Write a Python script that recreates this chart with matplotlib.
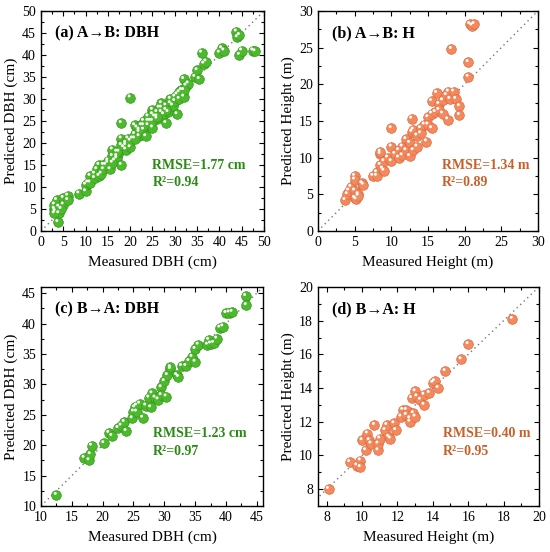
import matplotlib
matplotlib.use("Agg")
import matplotlib.pyplot as plt
from matplotlib.transforms import ScaledTranslation
from matplotlib.ticker import MultipleLocator, AutoMinorLocator

plt.rcParams['font.family'] = ['Liberation Serif', 'DejaVu Serif']
plt.rcParams['mathtext.fontset'] = 'stix'

# ---------------- data ----------------
a_meas = [3, 3, 3.2, 3.5, 4, 3.8, 4, 5, 5, 6, 6, 3, 4.5,
          8.5, 10, 10, 10.5, 11, 11, 12, 12, 12.5, 13, 13, 13.5, 14, 14, 15, 15, 15.5,
          16, 16, 16.5, 17, 17, 17.5, 18, 18, 18, 18.5, 19, 19, 19.5, 20, 20, 20.5,
          21, 21, 21.5, 22, 22, 22.5, 23, 23, 23.5, 24, 24, 24.5, 25, 25, 25.5, 26, 26,
          26.5, 27, 27, 27.5, 28, 28, 28.5, 29, 29.5, 30, 30, 30.5, 30.5, 31, 31.5, 32,
          32, 32.5, 33, 34.5, 35, 35.5, 36, 36.5, 37, 40, 40.5, 41, 43.8, 44, 44.5, 44.5,
          45, 47.5, 48,
          14.5, 16, 17, 18, 19, 20, 21, 22, 23, 24, 25, 25, 26, 27, 28, 29, 31, 32]
a_pred = [5, 6, 4.5, 7, 5.5, 2, 4, 7.5, 6, 8, 7, 4, 5,
          8.5, 9, 10.5, 11, 12.5, 11, 12, 13, 14, 15, 12.5, 13, 15, 14, 15.5, 16, 14,
          17, 18.5, 16, 17, 16.5, 18, 15, 21, 24.5, 19, 20, 18.5, 21, 19, 30.3, 21,
          22, 24, 23.5, 21.5, 22.5, 24, 23, 25, 21.5, 24, 26, 25, 27.5, 23.5, 26, 27, 25.5,
          28, 29, 27, 26.5, 24.5, 28.5, 27, 29, 28.5, 30.5, 29.5, 26.5, 31, 30, 32, 30.5,
          34.5, 33, 33.5, 35, 36.5, 34.5, 40.5, 38, 38.5, 40.5, 41.5, 41, 45.3, 44, 44.5, 40,
          41, 41, 40.8,
          15, 15.5, 18, 19.5, 19.5, 20.5, 21, 23, 24, 25, 25, 26.5, 26, 28, 27.5, 30, 31.5, 32]

b_meas = [3.7, 4, 4.2, 4.5, 5, 5, 5, 5, 5.2, 5.5, 5.5, 6, 6.2, 7.5, 8, 8, 8.5, 8.5, 8.5,
          8.8, 9, 9, 9.5, 10, 10, 10, 10.5, 11, 11, 11.5, 11.5, 12, 12, 12.5, 12.5, 12.8,
          12.8, 13, 13, 13.5, 13.5, 14, 14, 14.5, 14.8, 15, 15, 15.5, 15.5, 15.5, 16, 16.2,
          16.5, 16.5, 17, 17, 17.5, 17.7, 17.8, 18, 18.2, 18.5, 18.8, 19.3, 19.3, 20.5,
          20.5, 20.7, 21, 21.3]
b_pred = [4.2, 5, 5.5, 6, 7.5, 7, 5.5, 4.5, 4.3, 5, 4.8, 6.5, 6.3, 7.5, 8, 7.5, 9, 10.5, 10.8,
          8.5, 9.5, 8.2, 10, 11.5, 14, 9.5, 10.5, 11, 10, 11.5, 10.3, 12.5, 11, 12, 10.2, 15.3,
          13.5, 13.8, 11, 11.5, 13, 14, 13.3, 14.5, 12.2, 15.5, 14.5, 14, 16, 17.7, 16.2, 18.8,
          17.3, 16.5, 17.8, 16, 18.5, 15.2, 19, 18, 24.8, 19, 18, 17, 15.8, 21,
          23, 28.2, 28, 28.2]

c_meas = [12.5, 17, 17.8, 18, 18.2, 20.2, 21, 21.5, 22.5, 23, 23.5, 23.8, 24.8, 25, 25.2,
          25.5, 25.5, 26, 26.5, 27, 27.5, 27.8, 28, 28.5, 29, 29.5, 29.5, 30, 30.3, 30.5,
          31, 31, 32, 32.3, 32.8, 33.5, 34, 34.5, 35, 35, 35.5, 37, 37.2, 37.5, 38, 38.5,
          39, 39.5, 40, 40.5, 41, 43.2, 43.3]
c_pred = [11.8, 17.9, 17.5, 18.5, 19.9, 20.3, 22, 21.5, 22.8, 23.2, 23.8, 22.3, 24.4, 25.5, 26.2,
          26.5, 25.5, 26.8, 24.5, 26.5, 27.8, 26.2, 28.5, 27.8, 27.5, 29.5, 28.2, 30.5, 28, 31.5,
          32.5, 32.8, 31.5, 31.2, 33, 33, 33.8, 34.5, 35.8, 33.7, 36.5, 36.5, 37.3, 36.7, 36.8, 37.5,
          39.3, 39.5, 41.7, 41.8, 41.9, 44.5, 43]

d_meas = [8.1, 9.3, 9.7, 9.9, 9.9, 10, 10.2, 10.3, 10.4, 10.5, 10.7, 10.9, 10.9, 11, 11.3,
          11.4, 11.5, 11.6, 11.8, 11.9, 12.2, 12.3, 12.5, 12.5, 12.7, 12.7, 12.8, 12.9, 13,
          13, 13.1, 13.3, 13.5, 13.5, 13.8, 14, 14.1, 14.3, 14.7, 15.6, 16, 18.5]
d_pred = [8.0, 9.6, 9.4, 9.7, 9.3, 10.9, 10.3, 11.3, 10.9, 10.7, 11.8, 10.3, 10.7, 11, 11.5,
          11.8, 11.1, 11.0, 11.9, 11.5, 12.3, 12.7, 12.7, 12.4, 12.2, 12.0, 13.4, 12.5, 12.3,
          13.8, 13.5, 13.3, 13.0, 13.6, 13.7, 14.3, 14.4, 14.0, 15.0, 15.7, 16.6, 18.1]

titles = ["(a) A\u2192B: DBH", "(b) A\u2192B: H", "(c) B\u2192A: DBH", "(d) B\u2192A: H"]
stats = [("RMSE=1.77 cm", "R\u00b2=0.94"), ("RMSE=1.34 m", "R\u00b2=0.89"),
         ("RMSE=1.23 cm", "R\u00b2=0.97"), ("RMSE=0.40 m", "R\u00b2=0.95")]
xlabels = ["Measured DBH (cm)", "Measured Height (m)", "Measured DBH (cm)", "Measured Height (m)"]
ylabels = ["Predicted DBH (cm)", "Predicted Height (m)", "Predicted DBH (cm)", "Predicted Height (m)"]

GREEN, GREEN_DARK, GREEN_TXT = "#4cba2c", "#33931a", "#2a8a12"
ORANGE, ORANGE_DARK, ORANGE_TXT = "#f4895e", "#da683e", "#c8602a"

panels = [
    dict(x=a_meas, y=a_pred, xlim=(0, 50), ylim=(0, 50), step=5, c=GREEN, cd=GREEN_DARK, ct=GREEN_TXT,
         pos=[0.0745, 0.5815, 0.4055, 0.3986], stxt=(0.50, 0.30, 0.22)),
    dict(x=b_meas, y=b_pred, xlim=(0, 30), ylim=(0, 30), step=5, c=ORANGE, cd=ORANGE_DARK, ct=ORANGE_TXT,
         pos=[0.578, 0.5815, 0.400, 0.3986], stxt=(0.565, 0.30, 0.22)),
    dict(x=c_meas, y=c_pred, xlim=(10, 46), ylim=(10, 46), step=5, c=GREEN, cd=GREEN_DARK, ct=GREEN_TXT,
         pos=[0.0745, 0.0833, 0.4036, 0.3967], stxt=(0.505, 0.33, 0.25)),
    dict(x=d_meas, y=d_pred, xlim=(7.5, 20), ylim=(7, 20), step=2, c=ORANGE, cd=ORANGE_DARK, ct=ORANGE_TXT,
         pos=[0.578, 0.0833, 0.4018, 0.3967], stxt=(0.565, 0.33, 0.25)),
]

fig = plt.figure(figsize=(5.5, 5.52), dpi=100)

for i, p in enumerate(panels):
    ax = fig.add_axes(p['pos'])
    lo = min(p['xlim'][0], p['ylim'][0])
    hi = max(p['xlim'][1], p['ylim'][1])
    ax.plot([lo, hi], [lo, hi], linestyle=(0, (1, 2.5)), color="#777777", lw=1.0, zorder=1)
    ax.scatter(p['x'], p['y'], s=48, c=p['c'], edgecolors=p['cd'], linewidths=0.5, zorder=2)
    off1 = ax.transData + ScaledTranslation(-0.4 / 72, 0.6 / 72, fig.dpi_scale_trans)
    ax.scatter(p['x'], p['y'], s=20, c=p['c'], alpha=0.6, edgecolors='none', zorder=3, transform=off1)
    off2 = ax.transData + ScaledTranslation(-0.8 / 72, 1.2 / 72, fig.dpi_scale_trans)
    ax.scatter(p['x'], p['y'], s=4.5, c='white', edgecolors='none', zorder=4, transform=off2)
    ax.set_xlim(*p['xlim'])
    ax.set_ylim(*p['ylim'])
    ax.xaxis.set_major_locator(MultipleLocator(p['step']))
    ax.yaxis.set_major_locator(MultipleLocator(p['step']))
    ax.xaxis.set_minor_locator(AutoMinorLocator(2))
    ax.yaxis.set_minor_locator(AutoMinorLocator(2))
    ax.tick_params(which='both', direction='in', top=True, right=True, labelsize=10, width=0.8)
    ax.tick_params(which='major', length=3.5)
    ax.tick_params(which='minor', length=2)
    for s in ax.spines.values():
        s.set_linewidth(1.0)
    ax.set_xlabel(xlabels[i], fontsize=11, labelpad=5)
    ax.set_ylabel(ylabels[i], fontsize=11, labelpad=3)
    ax.text(0.065, 0.90, titles[i], transform=ax.transAxes, fontsize=11.5, fontweight='bold',
            va='center', ha='left')
    sx, sy1, sy2 = p['stxt']
    ax.text(sx, sy1, stats[i][0], transform=ax.transAxes, fontsize=10, fontweight='bold',
            color=p['ct'], va='center', ha='left')
    ax.text(sx, sy2, stats[i][1], transform=ax.transAxes, fontsize=10, fontweight='bold',
            color=p['ct'], va='center', ha='left')

fig.savefig("out.png", dpi=100)
